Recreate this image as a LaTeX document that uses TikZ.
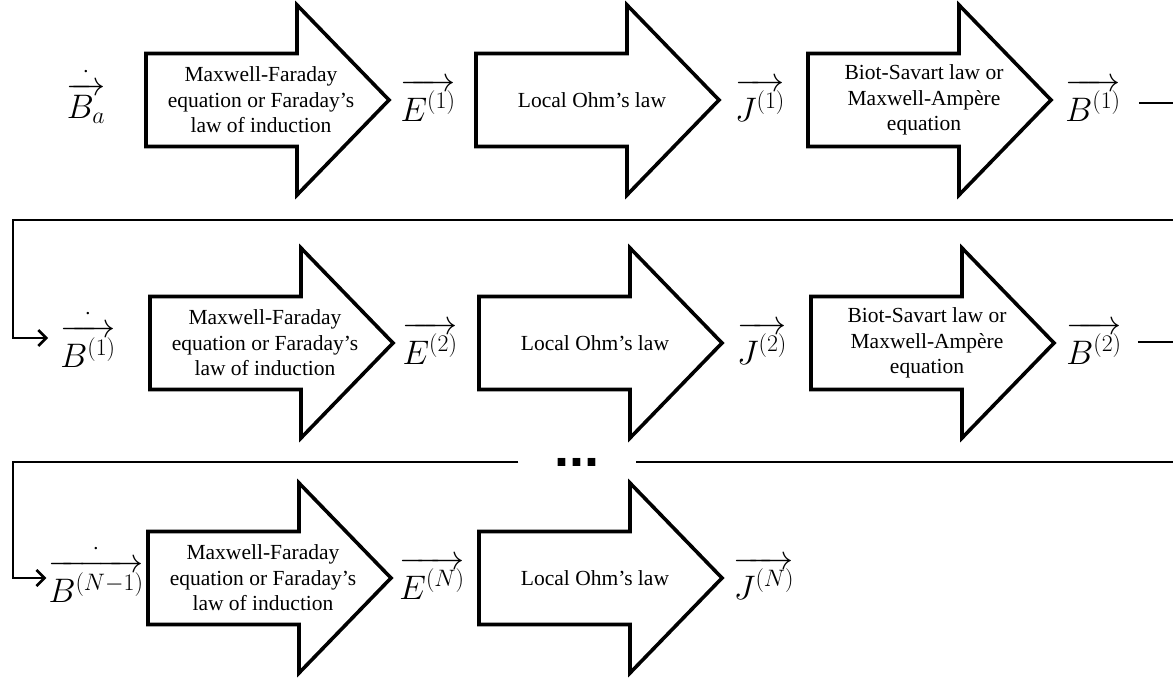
\documentclass[tikz,border=0pt]{standalone}
\usepackage{fix-cm}
\usepackage{amsmath}
\usepackage{fontspec}
\setmainfont{Liberation Serif}
\newfontfamily\dotsfont{Liberation Sans}
\usetikzlibrary{arrows.meta}
\newcommand{\dotvec}[1]{\overset{\cdot}{\overrightarrow{#1}}}
\begin{document}
\begin{tikzpicture}[x=1pt,y=-1pt,
  outline/.style={draw=black,line width=3.6pt,fill=white,miter limit=10},
  blockarrow/.pic={\draw[outline] (0,-46.5) -- (151,-46.5) -- (151,-95) -- (243,0) -- (151,95) -- (151,46.5) -- (0,46.5) -- cycle;},
  boxtext/.style={align=center,inner sep=0pt,font=\fontsize{21.5}{25.5}\selectfont},
  veclabel/.style={inner sep=0pt,font=\fontsize{34}{40}\selectfont},
  conn/.style={line width=2.6pt,line join=miter},
  tip/.style={-{Straight Barb[length=8pt,width=16pt,line width=2.6pt]}}
]
\path[use as bounding box,clip] (0,0) rectangle (1173,679);

% ---------- row 1 ----------
\pic at (146,100) {blockarrow};
\pic at (476,100) {blockarrow};
\pic at (808,100) {blockarrow};
\node[boxtext] (mf1) at (261,100) {Maxwell-Faraday\\equation or Faraday’s\\law of induction};
\node[boxtext] (oh1) at (592,100) {Local Ohm’s law};
\node[boxtext] (bs1) at (924,100) {Biot-Savart law or\\Maxwell-Ampère\\equation};
\node[veclabel] (lBa) at (86,94) {$\dotvec{B_a}$};
\node[veclabel] (lE1) at (428,100) {$\overrightarrow{E^{(1)}}$};
\node[veclabel] (lJ1) at (760,100) {$\overrightarrow{J^{(1)}}$};
\node[veclabel] (lB1) at (1093,100) {$\overrightarrow{B^{(1)}}$};

% ---------- row 2 ----------
\pic at (150,343) {blockarrow};
\pic at (479,343) {blockarrow};
\pic at (811,343) {blockarrow};
\node[boxtext] (mf2) at (265,343) {Maxwell-Faraday\\equation or Faraday’s\\law of induction};
\node[boxtext] (oh2) at (595,343) {Local Ohm’s law};
\node[boxtext] (bs2) at (927,343) {Biot-Savart law or\\Maxwell-Ampère\\equation};
\node[veclabel] (lBd1) at (88,337) {$\dotvec{B^{(1)}}$};
\node[veclabel] (lE2) at (430,343) {$\overrightarrow{E^{(2)}}$};
\node[veclabel] (lJ2) at (762,343) {$\overrightarrow{J^{(2)}}$};
\node[veclabel] (lB2) at (1094,343) {$\overrightarrow{B^{(2)}}$};

% ---------- row 3 ----------
\pic at (148,578) {blockarrow};
\pic at (479,578) {blockarrow};
\node[boxtext] (mfN) at (263,578) {Maxwell-Faraday\\equation or Faraday’s\\law of induction};
\node[boxtext] (ohN) at (595,578) {Local Ohm’s law};
\node[veclabel] (lBdN) at (96,572) {$\dotvec{B^{(N-1)}}$};
\node[veclabel] (lEN) at (432,578) {$\overrightarrow{E^{(N)}}$};
\node[veclabel] (lJN) at (764,578) {$\overrightarrow{J^{(N)}}$};

% ---------- feedback connectors ----------
\node[inner sep=0pt,minimum width=117pt,font=\dotsfont\bfseries\fontsize{54}{60}\selectfont] (dots) at (577,462) {...};
\coordinate (y1) at (0,103);
\coordinate (y2) at (0,342);
\coordinate (y3) at (0,462);
\coordinate (in1) at (0,338);
\coordinate (inN) at (0,578);

\draw[conn,tip,shorten <=18pt,shorten >=12pt]
  (lB1.east |- y1) -- (1190,103) -- (1190,220) -- (13,220) -- (13,338) -- (lBd1.west |- in1);
\draw[conn,shorten <=16pt]
  (lB2.east |- y2) -- (1190,342) -- (1190,462) -- (dots.east |- y3);
\draw[conn,tip,shorten >=2pt]
  (dots.west |- y3) -- (13,462) -- (13,578) -- (lBdN.west |- inN);
\end{tikzpicture}
\end{document}
